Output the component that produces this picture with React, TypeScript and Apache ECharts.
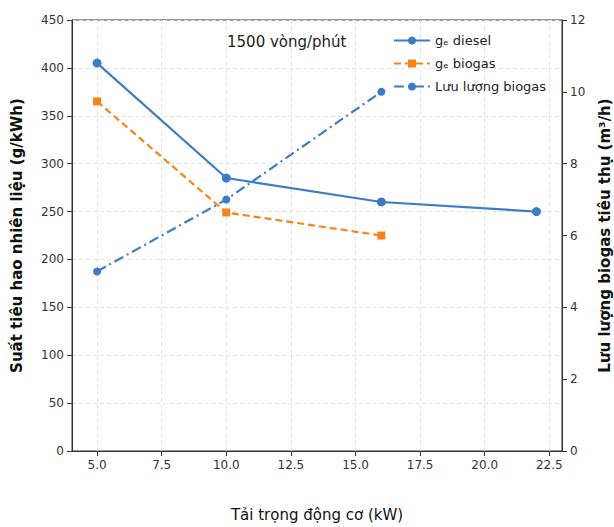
import React, { useEffect, useRef } from "react";
import * as echarts from "echarts";

// Engine load (kW)
const loads = [5, 10, 16, 22];
// Specific fuel consumption, g/kWh
const geDiesel = [405, 285, 260, 250];
const geBiogas = [365, 249, 225];
// Biogas consumption, m³/h
const biogasFlow = [5.0, 7.0, 10.0];

const xTicks = [5, 7.5, 10, 12.5, 15, 17.5, 20, 22.5];

const BLUE = "#3d7cc4";
const ORANGE = "#f58518";
const FONT = "DejaVu Sans";

export default function App() {
  const ref = useRef<HTMLDivElement>(null);

  useEffect(() => {
    if (!ref.current) return;
    document.body.style.margin = "0";
    const chart = echarts.init(ref.current, undefined, { renderer: "svg" });
    const pair = (ys: number[]) => ys.map((y, i) => [loads[i], y]);
    const tickStyle = { color: "#333", fontFamily: FONT, fontSize: 12 };
    chart.setOption({
      animation: false,
      textStyle: { fontFamily: FONT },
      grid: {
        left: 72,
        right: 52,
        top: 20,
        bottom: 76,
        outerBoundsMode: "none",
        containLabel: false,
        show: true,
        borderColor: "#333",
        borderWidth: 1,
      },
      legend: {
        left: 388,
        top: 29,
        orient: "vertical",
        itemWidth: 36,
        itemHeight: 10,
        itemGap: 10,
        textStyle: { fontFamily: FONT, fontSize: 13, color: "#222" },
        data: ["gₑ diesel", "gₑ biogas", "Lưu lượng biogas"],
      },
      xAxis: {
        type: "value",
        min: 4.03,
        max: 22.99,
        name: "Tải trọng động cơ (kW)",
        nameLocation: "middle",
        nameGap: 56,
        nameTextStyle: { fontFamily: FONT, fontSize: 15, color: "#111" },
        axisLine: { show: true, onZero: false, lineStyle: { color: "#333" } },
        axisTick: { show: true, customValues: xTicks, length: 5, lineStyle: { color: "#333" } },
        axisLabel: {
          ...tickStyle,
          customValues: xTicks,
          margin: 8,
          formatter: (v: number) => v.toFixed(1),
        },
        splitLine: { show: true, lineStyle: { color: "#e3e3e3", type: [4, 3] } },
      },
      yAxis: [
        {
          type: "value",
          min: 0,
          max: 450,
          interval: 50,
          name: "Suất tiêu hao nhiên liệu (g/kWh)",
          nameLocation: "middle",
          nameGap: 48,
          nameTextStyle: { fontFamily: FONT, fontSize: 15, fontWeight: "bold", color: "#111" },
          axisLine: { show: true, lineStyle: { color: "#333" } },
          axisTick: { show: true, length: 5, lineStyle: { color: "#333" } },
          axisLabel: { ...tickStyle, margin: 8 },
          splitLine: { show: true, lineStyle: { color: "#e3e3e3", type: [4, 3] } },
        },
        {
          type: "value",
          min: 0,
          max: 12,
          interval: 2,
          position: "right",
          name: "Lưu lượng biogas tiêu thụ (m³/h)",
          nameLocation: "middle",
          nameGap: 35,
          nameRotate: 90,
          nameTextStyle: {
            fontFamily: FONT,
            fontSize: 15,
            lineHeight: 15,
            fontWeight: "bold",
            color: "#111",
          },
          axisLine: { show: true, lineStyle: { color: "#333" } },
          axisTick: { show: true, length: 5, lineStyle: { color: "#333" } },
          axisLabel: { ...tickStyle, margin: 8 },
          splitLine: { show: false },
        },
      ],
      graphic: [
        {
          type: "text",
          left: 227,
          top: 34,
          style: { text: "1500 vòng/phút", fontFamily: FONT, fontSize: 15, fill: "#222" },
        },
      ],
      series: [
        {
          name: "gₑ diesel",
          type: "line",
          yAxisIndex: 0,
          data: pair(geDiesel),
          symbol: "circle",
          symbolSize: 9,
          color: BLUE,
          lineStyle: { width: 2.2, color: BLUE },
          itemStyle: { color: BLUE },
        },
        {
          name: "gₑ biogas",
          type: "line",
          yAxisIndex: 0,
          data: pair(geBiogas),
          symbol: "rect",
          symbolSize: 8,
          color: ORANGE,
          lineStyle: { width: 2.2, color: ORANGE, type: [7, 4] },
          itemStyle: { color: ORANGE },
        },
        {
          name: "Lưu lượng biogas",
          type: "line",
          yAxisIndex: 1,
          data: pair(biogasFlow),
          symbol: "circle",
          symbolSize: 8,
          color: BLUE,
          lineStyle: { width: 2.2, color: BLUE, type: [10, 4, 2, 4] },
          itemStyle: { color: BLUE },
        },
      ],
    });
    return () => chart.dispose();
  }, []);

  return <div ref={ref} style={{ width: 614, height: 527 }} />;
}
